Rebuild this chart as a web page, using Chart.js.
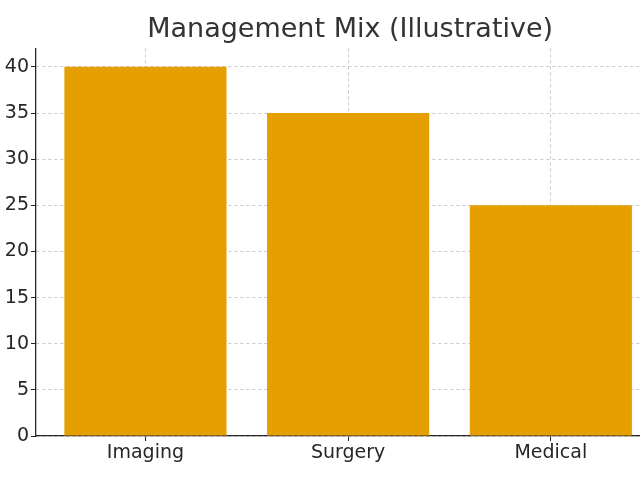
<!DOCTYPE html>
<html>
<head>
<meta charset="utf-8">
<script src="https://cdn.jsdelivr.net/npm/chart.js@4/dist/chart.umd.min.js"></script>
<style>
  body { margin: 0; background: #fff; }
</style>
</head>
<body>
<canvas id="chart" width="640" height="480"></canvas>
<script>
const categories = ['Imaging', 'Surgery', 'Medical'];
const shares = [40, 35, 25];
const yTicks = [0, 5, 10, 15, 20, 25, 30, 35, 40];

const gridColor = 'rgba(165,165,165,0.6)';
const inkColor = '#262626';

// bars sit on a linear axis at 0,1,2 so the axis can start/stop off-centre like the source
const points = categories.map((c, i) => ({ x: i, y: shares[i] }));

// the source axes run past the right edge; centre the title over the full (virtual) axes width
const titleShift = {
    id: 'titleShift',
    afterLayout(chart) {
        const t = chart.titleBlock;
        const x = chart.scales.x;
        t.left = chart.chartArea.left;
        t.right = x.getPixelForValue(2.56);
    }
};

const ctx = document.getElementById('chart').getContext('2d');
new Chart(ctx, {
    type: 'bar',
    data: {
        datasets: [{
            data: points,
            backgroundColor: '#E69F00',
            borderWidth: 0,
            barPercentage: 0.8,
            categoryPercentage: 1.0
        }]
    },
    options: {
        responsive: false,
        animation: false,
        layout: { padding: 0 },
        plugins: {
            legend: { display: false },
            tooltip: { enabled: false },
            title: {
                display: true,
                text: 'Management Mix (Illustrative)',
                color: '#333',
                font: { family: 'DejaVu Sans', size: 27, weight: 'normal' },
                padding: { top: 14, bottom: 2 }
            }
        },
        scales: {
            x: {
                type: 'linear',
                min: -0.54,
                max: 2.44,
                offset: false,
                z: 1,
                afterFit: s => { s.height = 44; },
                afterBuildTicks: s => { s.ticks = categories.map((c, i) => ({ value: i })); },
                ticks: {
                    callback: v => categories[v] ?? '',
                    color: inkColor,
                    font: { family: 'DejaVu Sans', size: 19 },
                    padding: 1,
                    maxRotation: 0
                },
                grid: { offset: false, color: gridColor, tickColor: inkColor, tickLength: 5 },
                border: { color: inkColor, width: 1.3, dash: [3, 3] }
            },
            y: {
                min: 0,
                max: 42,
                z: 1,
                afterFit: s => { s.width = 36; },
                afterBuildTicks: s => { s.ticks = yTicks.map(v => ({ value: v })); },
                ticks: {
                    color: inkColor,
                    font: { family: 'DejaVu Sans', size: 19 },
                    padding: 2
                },
                grid: { color: gridColor, tickColor: inkColor, tickLength: 5 },
                border: { color: inkColor, width: 1.3, dash: [3, 3] }
            }
        }
    },
    plugins: [titleShift]
});
</script>
</body>
</html>
